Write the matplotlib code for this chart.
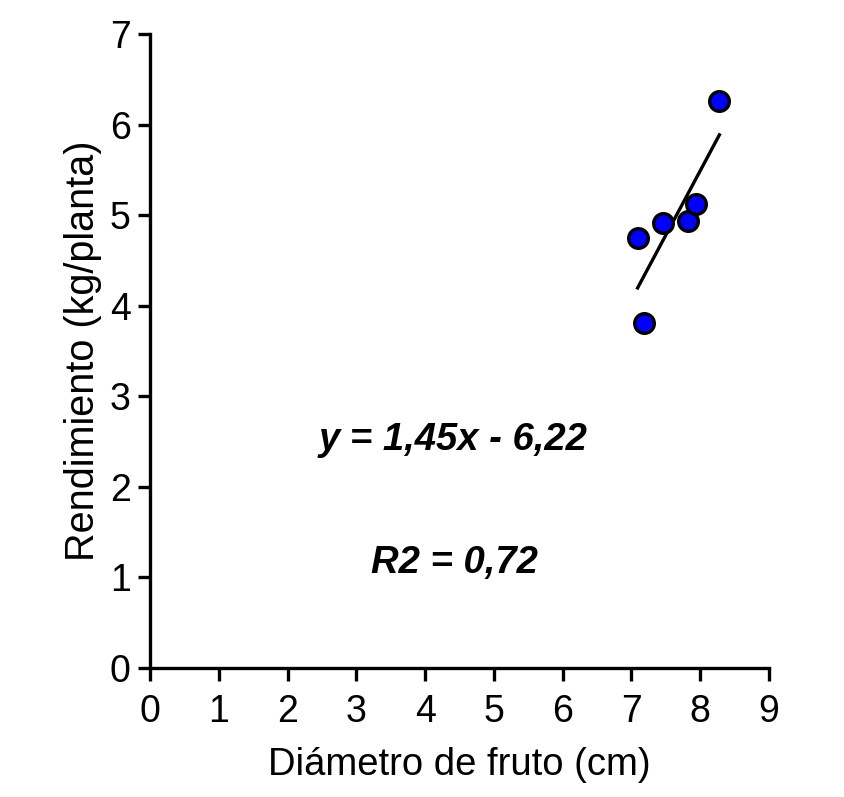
import matplotlib
matplotlib.use("Agg")
import matplotlib.pyplot as plt
import numpy as np

plt.rcParams['font.family'] = ['Liberation Sans', 'DejaVu Sans']

# diameter (cm) vs yield (kg/plant)
diametro = [7.09, 7.19, 7.46, 7.82, 7.94, 8.28]
rendimiento = [4.75, 3.81, 4.91, 4.94, 5.12, 6.26]

ecuacion = "y = 1,45x - 6,22"
r2_texto = "R2 = 0,72"

fig = plt.figure(figsize=(8.44, 7.97), dpi=100)
ax = fig.add_axes([0.178, 0.162, 0.733, 0.795])

# least squares line over the data range
m, b = np.polyfit(diametro, rendimiento, 1)
xs = np.array([min(diametro), max(diametro)])
ax.plot(xs, m * xs + b, color='black', lw=2.4, zorder=2)

ax.scatter(diametro, rendimiento, s=200, c='#0000ff', edgecolors='black',
           linewidths=2.4, zorder=3, clip_on=False)

ax.text(4.4, 2.52, ecuacion, ha='center', va='center', fontsize=27.5,
        fontweight='bold', fontstyle='italic')
ax.text(4.43, 1.16, r2_texto, ha='center', va='center', fontsize=27.5,
        fontweight='bold', fontstyle='italic')

ax.set_xlim(0, 9)
ax.set_ylim(0, 7)
ax.set_xticks(range(0, 10))
ax.set_yticks(range(0, 8))

for s in ['top', 'right']:
    ax.spines[s].set_visible(False)
for s in ['left', 'bottom']:
    ax.spines[s].set_linewidth(2.4)

ax.tick_params(direction='out', length=9, width=2.4, labelsize=27)
ax.tick_params(axis='x', pad=10)
ax.tick_params(axis='y', pad=5)
ax.set_xlabel("Diámetro de fruto (cm)", fontsize=27.5, labelpad=12)
ax.set_ylabel("Rendimiento (kg/planta)", fontsize=28.5, labelpad=6)

fig.savefig("out.png", dpi=100)
